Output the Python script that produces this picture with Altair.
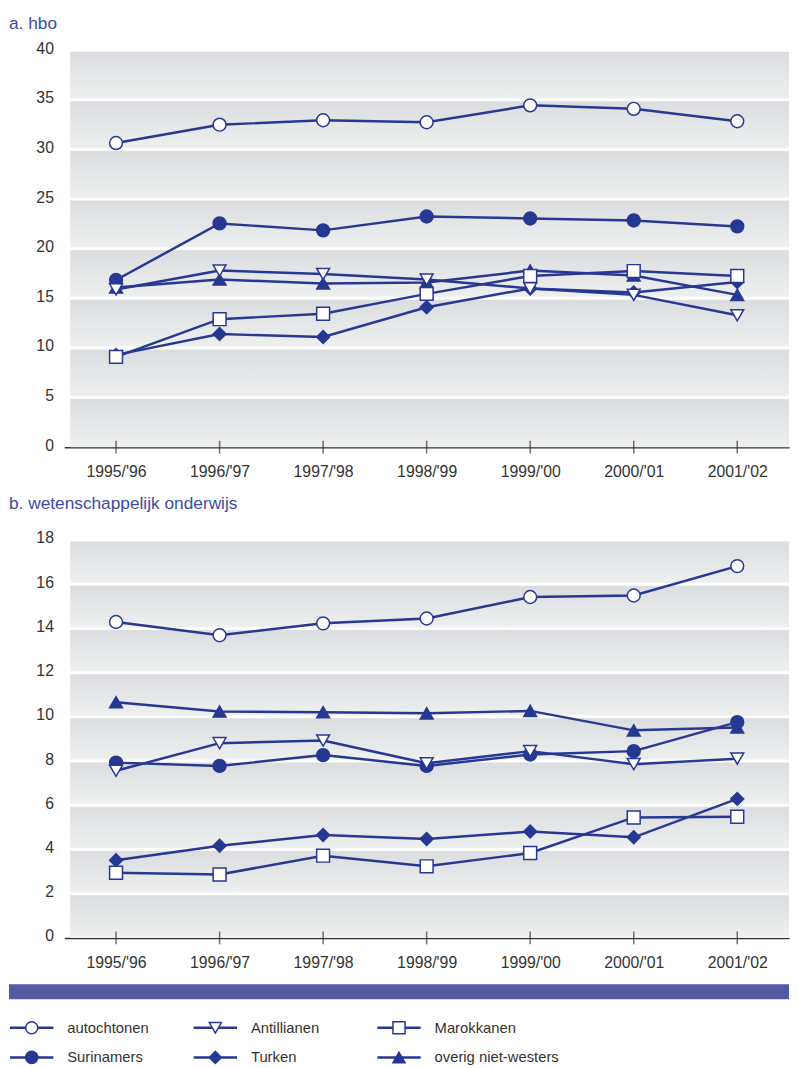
import altair as alt
import pandas as pd

# ---------------- data ----------------
years = ["1995/'96", "1996/'97", "1997/'98", "1998/'99", "1999/'00", "2000/'01", "2001/'02"]

# drawing order (later = on top)
series = ["overig niet-westers", "Surinamers", "Turken", "autochtonen", "Marokkanen", "Antillianen"]
shapes = ["triangle-up", "circle", "diamond", "circle", "square", "triangle-down"]
BLUE = "#263891"
fills = [BLUE, BLUE, BLUE, "white", "white", "white"]

# a. hbo
hbo_autochtonen = [30.65, 32.5, 32.95, 32.75, 34.45, 34.1, 32.85]
hbo_surinamers = [16.85, 22.55, 21.85, 23.25, 23.05, 22.85, 22.25]
hbo_antillianen = [15.9, 17.8, 17.45, 16.9, 16.0, 15.35, 13.3]
hbo_turken = [9.3, 11.4, 11.1, 14.1, 16.0, 15.6, 16.65]
hbo_marokkanen = [9.1, 12.9, 13.45, 15.45, 17.25, 17.75, 17.25]
hbo_overig = [16.1, 16.9, 16.5, 16.6, 17.8, 17.3, 15.35]

# b. wetenschappelijk onderwijs
wo_autochtonen = [14.29, 13.69, 14.23, 14.45, 15.42, 15.49, 16.82]
wo_surinamers = [7.93, 7.78, 8.27, 7.78, 8.3, 8.45, 9.76]
wo_antillianen = [7.56, 8.81, 8.93, 7.9, 8.45, 7.86, 8.11]
wo_turken = [3.51, 4.17, 4.66, 4.48, 4.81, 4.55, 6.29]
wo_marokkanen = [2.95, 2.87, 3.72, 3.24, 3.84, 5.45, 5.48]
wo_overig = [10.66, 10.24, 10.21, 10.16, 10.27, 9.39, 9.52]

hbo_ticks = [0, 5, 10, 15, 20, 25, 30, 35, 40]
wo_ticks = [0, 2, 4, 6, 8, 10, 12, 14, 16, 18]

legend_names = ["autochtonen", "Antillianen", "Marokkanen", "Surinamers", "Turken", "overig niet-westers"]
legend_col = [0, 1, 2, 0, 1, 2]
legend_row = [0, 0, 0, 1, 1, 1]

# ---------------- style ----------------
FONT = "Liberation Sans, Arial, sans-serif"
TXT = "#333333"
TITLE_BLUE = "#3d4ba2"
BAR = "#5459a0"
W = 734
GRAD = alt.LinearGradient(
    gradient="linear",
    stops=[alt.GradientStop(color="#dbdcdf", offset=0), alt.GradientStop(color="#eff0f0", offset=1)],
    x1=0, x2=0, y1=0, y2=1,
)


def long_df(d):
    rows = []
    for s in series:
        for y, v in zip(years, d[s]):
            rows.append({"year": y, "series": s, "value": v})
    return pd.DataFrame(rows)


shape_enc = alt.Shape("series:N", scale=alt.Scale(domain=series, range=shapes), legend=None)
fill_enc = alt.Fill("series:N", scale=alt.Scale(domain=series, range=fills), legend=None)


def panel(d, ticks, height):
    df = long_df(d)
    ymax = ticks[-1]
    yaxis = alt.Axis(values=ticks, title=None, domain=False, ticks=False, grid=False,
                     labelPadding=11, labelFontSize=16, labelColor=TXT, labelOffset=-2,
                     labelFont=FONT)
    yscale = alt.Scale(domain=[0, ymax], nice=False, zero=True)
    xaxis = alt.Axis(title=None, labelAngle=0, ticks=False, domain=True, domainColor=TXT,
                     domainWidth=1.5, labelPadding=17, labelFontSize=16, labelColor=TXT,
                     labelFont=FONT, grid=False)
    xscale = alt.Scale(type="point", padding=0.5)
    xenc = alt.X("year:O", sort=years, scale=xscale, axis=xaxis)

    bands_df = pd.DataFrame({"lo": ticks[:-1], "hi": ticks[1:]})
    bands = alt.Chart(bands_df).mark_rect(fill=GRAD).encode(
        y=alt.Y("lo:Q", scale=yscale, axis=yaxis), y2="hi:Q",
        x=alt.value(6), x2=alt.value(W),
    )
    grid_df = pd.DataFrame({"v": ticks[1:]})
    grid = alt.Chart(grid_df).mark_rule(color="white", strokeWidth=3).encode(
        y=alt.Y("v:Q", scale=yscale, axis=yaxis), x=alt.value(6), x2=alt.value(W),
    )
    lines = alt.Chart(df).mark_line(strokeWidth=2.5, color=BLUE).encode(
        x=xenc, y=alt.Y("value:Q", scale=yscale, axis=yaxis), detail="series:N",
    )
    pts = alt.Chart(df).mark_point(filled=True, stroke=BLUE, strokeWidth=1.5, size=170, opacity=1).encode(
        x=xenc, y=alt.Y("value:Q", scale=yscale, axis=yaxis), shape=shape_enc, fill=fill_enc,
    )
    tick_df = pd.DataFrame({"year": years})
    tks = alt.Chart(tick_df).mark_tick(orient="vertical", size=13, thickness=1.5, color=TXT).encode(
        x=xenc, y=alt.datum(0, scale=yscale, axis=yaxis),
    )
    return alt.layer(bands, grid, lines, pts, tks)


hbo = {
    "autochtonen": hbo_autochtonen, "Surinamers": hbo_surinamers, "Antillianen": hbo_antillianen,
    "Turken": hbo_turken, "Marokkanen": hbo_marokkanen, "overig niet-westers": hbo_overig,
}
wo = {
    "autochtonen": wo_autochtonen, "Surinamers": wo_surinamers, "Antillianen": wo_antillianen,
    "Turken": wo_turken, "Marokkanen": wo_marokkanen, "overig niet-westers": wo_overig,
}

H1 = 402
H2 = 403

top = panel(hbo, hbo_ticks, H1).properties(
    width=W, height=H1,
    title=alt.Title("a. hbo", anchor="start", frame="group", dx=-56, dy=-3, offset=5,
                    fontSize=17.5, fontWeight="normal", color=TITLE_BLUE, font=FONT),
)

# legend (drawn below the second panel)
leg_df = pd.DataFrame({"series": legend_names, "col": legend_col, "row": legend_row})
lx_scale = alt.Scale(domain=[0, 2], range=[-33, 339])
ly_scale = alt.Scale(domain=[0, 1], range=[494, 524])
leg_base = alt.Chart(leg_df)
leg_rule = leg_base.transform_calculate(c1="datum.col - 0.118", c2="datum.col + 0.118").mark_rule(
    strokeWidth=2.5, color=BLUE).encode(
    x=alt.X("c1:Q", scale=lx_scale, axis=None), x2="c2:Q",
    y=alt.Y("row:Q", scale=ly_scale, axis=None),
)
leg_pts = leg_base.mark_point(filled=True, stroke=BLUE, strokeWidth=1.5, size=150, opacity=1).encode(
    x=alt.X("col:Q", scale=lx_scale, axis=None), y=alt.Y("row:Q", scale=ly_scale, axis=None),
    shape=shape_enc, fill=fill_enc,
)
leg_txt = leg_base.mark_text(align="left", baseline="middle", dx=36, fontSize=15, color=TXT, font=FONT).encode(
    x=alt.X("col:Q", scale=lx_scale, axis=None), y=alt.Y("row:Q", scale=ly_scale, axis=None),
    text="series:N",
)
bar = alt.Chart(pd.DataFrame({"k": [0]})).mark_rect(color=BAR).encode(
    x=alt.value(-56), x2=alt.value(W), y=alt.value(450), y2=alt.value(465),
)
legend_layer = alt.layer(bar, leg_rule, leg_pts, leg_txt)

bottom = alt.layer(panel(wo, wo_ticks, H2), legend_layer).resolve_scale(
    x="independent", y="independent"
).properties(
    width=W, height=H2,
    title=alt.Title("b. wetenschappelijk onderwijs", anchor="start", frame="group", dx=-56, offset=18,
                    fontSize=17.5, fontWeight="normal", color=TITLE_BLUE, font=FONT),
)

chart = alt.vconcat(top, bottom, spacing=15).properties(
    padding={"left": 0, "top": 0, "right": 0, "bottom": 0},
    background="white",
).configure_view(stroke=None)

chart.save("out.html", embed_options={"renderer": "svg", "actions": False})
